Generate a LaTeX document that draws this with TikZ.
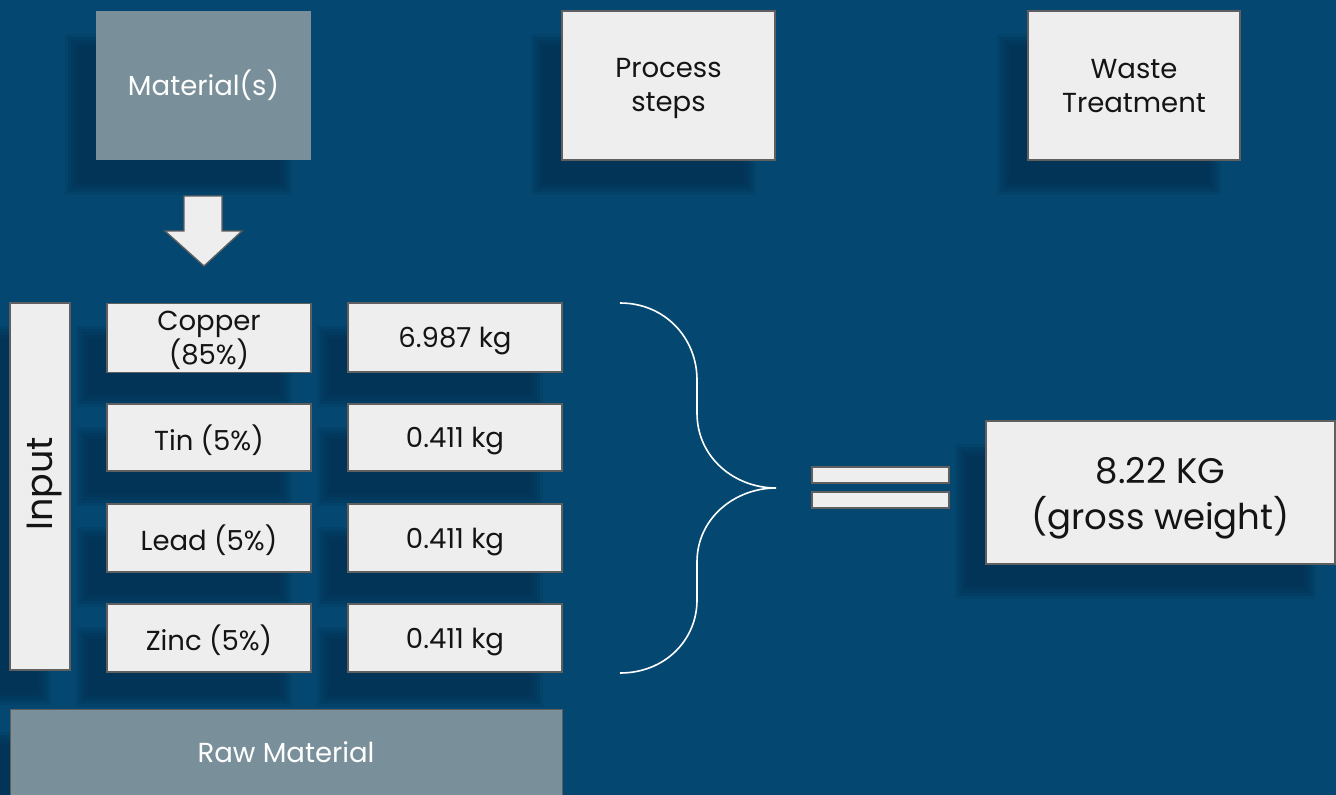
\documentclass[tikz,border=0pt]{standalone}
\usepackage{fontspec}
\setmainfont{Poppins}
\definecolor{bgblue}{RGB}{4,72,114}
\definecolor{shadowc}{RGB}{2,48,80}
\definecolor{greyblue}{RGB}{121,144,155}
\definecolor{lightbox}{RGB}{238,238,238}
\definecolor{edgec}{RGB}{95,95,95}
\definecolor{txt}{RGB}{20,20,20}
\newcommand{\myshadow}[4]{%
  \foreach \k in {0,...,4}{%
    \fill[shadowc,opacity=0.24] ({#1-25+6-3*\k},{#2+29+6-3*\k}) rectangle ({#3-25-6+3*\k},{#4+29-6+3*\k});
  }}
\tikzset{
  lbox/.style={draw=edgec,line width=1.3pt,fill=lightbox,text=txt,align=center,inner sep=0pt,font=\fontsize{27.5}{34}\selectfont},
  sline/.style={lbox,text depth=0pt},
  gbox/.style={draw=none,fill=greyblue,text=white,align=center,inner sep=0pt,font=\fontsize{27.5}{34}\selectfont},
  gboxe/.style={gbox,draw=edgec,line width=1.3pt},
  label/.style={text=txt,align=center,inner sep=0pt,font=\fontsize{27.5}{34}\selectfont},
  bar/.style={draw=edgec,line width=1.3pt,fill=lightbox,inner sep=0pt,minimum width=137pt,minimum height=16pt},
  bracec/.style={draw=white,line width=1.6pt}
}
\begin{document}
\begin{tikzpicture}[x=1pt,y=-1pt]
\fill[bgblue] (0,0) rectangle (1336,795);
\useasboundingbox (0,0) rectangle (1336,795);
% shadows
\myshadow{96}{11}{311}{160}
\myshadow{562}{11}{775}{160}
\myshadow{1028}{11}{1240}{160}
\myshadow{986}{421}{1335}{564}
\myshadow{10}{303}{70}{670}
\foreach \ya/\yb in {303/372,404/471,504/572,604/672}{
  \myshadow{107}{\ya}{311}{\yb}
  \myshadow{348}{\ya}{562}{\yb}
}
\myshadow{10}{709}{562}{800}
% top boxes
\node[gbox,minimum width=215pt,minimum height=149pt] (mat) at (203.5,85.5) {Material(s)};
\node[lbox,minimum width=213pt,minimum height=149pt] (proc) at (668.5,85.5) {};
\node[label] (proct) at (668.5,88) {Process\\steps};
\node[lbox,minimum width=212pt,minimum height=149pt] (waste) at (1134,85.5) {};
\node[label] (wastet) at (1134,86) {Waste\\Treatment};
% block arrow
\draw[edgec,line width=1.3pt,fill=lightbox,line join=miter] (184,196) -- (222,196) -- (222,231) -- (242,231) -- (204,266) -- (165,231) -- (184,231) -- cycle;
% input column
\node[lbox,minimum width=60pt,minimum height=367pt] (input) at (40,486.5) {};
\node[text=txt,rotate=90,font=\fontsize{36.5}{40}\selectfont,inner sep=0pt] (inputt) at (45,484) {Input};
% material rows
\node[lbox,minimum width=204pt,minimum height=69pt,anchor=north] (cu) at (209,303) {};
\node[label] (cut) at (209,340) {Copper\\(85\%)};
\node[sline,minimum width=214pt,minimum height=69pt] (cukg) at (455,337.5) {6.987 kg};
\node[sline,minimum width=204pt,minimum height=67pt] (sn) at (209,437.5) {Tin (5\%)};
\node[sline,minimum width=214pt,minimum height=67pt] (snkg) at (455,437.5) {0.411 kg};
\node[sline,minimum width=204pt,minimum height=68pt] (pb) at (209,538) {Lead (5\%)};
\node[sline,minimum width=214pt,minimum height=68pt] (pbkg) at (455,538) {0.411 kg};
\node[sline,minimum width=204pt,minimum height=68pt] (zn) at (209,638) {Zinc (5\%)};
\node[sline,minimum width=214pt,minimum height=68pt] (znkg) at (455,638) {0.411 kg};
% raw material
\node[gboxe,minimum width=552pt,minimum height=100pt,anchor=north west] (raw) at (10,709) {};
\node[text=white,font=\fontsize{27.5}{34}\selectfont] (rawt) at (286,752) {Raw Material};
% brace
\coordinate (bt) at (620,303);
\coordinate (bb) at (620,673);
\coordinate (btip) at (776,488);
\draw[bracec] (bt) .. controls (665,303) and (697,338) .. (697,380) -- (697,413) .. controls (697,458) and (735,488) .. (btip) .. controls (735,488) and (697,518) .. (697,562) -- (697,600) .. controls (697,640) and (665,673) .. (bb);
% equals
\node[bar] (eq1) at (880.5,475) {};
\node[bar] (eq2) at (880.5,500) {};
% total
\node[lbox,minimum width=349pt,minimum height=143pt] (total) at (1160.5,492.5) {};
\node[label,font=\fontsize{35.5}{46}\selectfont] (totalt) at (1160.5,498) {8.22 KG\\(gross weight)};
\end{tikzpicture}
\end{document}
